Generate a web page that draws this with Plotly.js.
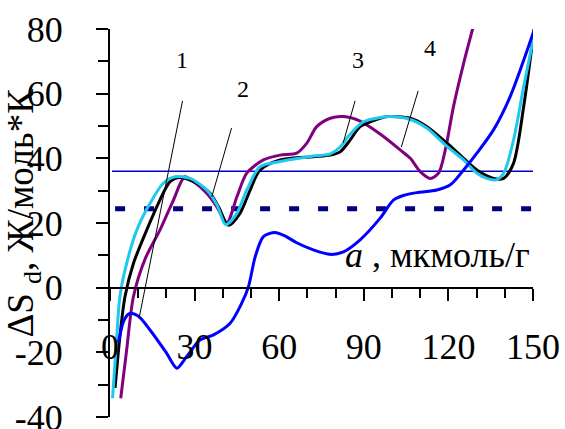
<!DOCTYPE html>
<html>
<head>
<meta charset="utf-8">
<script src="https://cdn.plot.ly/plotly-3.0.1.min.js"></script>
<style>html,body{margin:0;padding:0;background:#fff;}#chart{width:565px;height:429px;}</style>
</head>
<body>
<div id="chart"></div>
<script>
// Curve 1 (blue)
const x1 = [3, 5, 7, 10, 14.2, 20.1, 23.7, 27.2, 31.9, 36.7, 42.6, 46.7, 49.1, 51.5, 54.4, 58.5, 62, 66.2, 72.1, 78.1, 82.8, 88.7, 95.8, 100.5, 104, 108.8, 115.9, 120.7, 125.4, 130.1, 136, 141.9, 150.8];
const y1 = [-17, -10, -8, -8.8, -13.1, -20.3, -24.9, -21.3, -16.2, -14.6, -11, -4.8, 0.3, 9.6, 15.8, 17.1, 16, 13.9, 11.7, 10.3, 11.1, 14.8, 21.5, 27.1, 28.5, 29.4, 30.2, 31.8, 36.4, 41.6, 48.8, 59.1, 80.7];
// Curve 2 (black)
const x2 = [1.8, 3.5, 5.3, 8.3, 13, 17.7, 21.3, 24.8, 30.8, 35.5, 38.5, 42, 46.1, 49.7, 53.2, 60.3, 72.1, 78.1, 81.6, 85.2, 88.7, 95.8, 98.2, 106.5, 112.4, 119.5, 124.2, 130.1, 136, 139.6, 143.1, 146.7, 150.5];
const y2 = [-31, -15.2, -2.8, 7.5, 17.8, 27.1, 32.8, 34.1, 32.3, 29.2, 25, 19.3, 23, 30.2, 36.4, 39.5, 40.5, 41, 42, 45.7, 49.8, 52.4, 52.9, 52.4, 49.8, 44.7, 41, 36.4, 33.8, 33.8, 38.5, 56, 80.7];
// Curve 3 (light blue)
const x3 = [0.9, 2.4, 3.5, 5.9, 9.5, 14.2, 18.9, 23.1, 28.4, 34.3, 38, 41, 45, 48.5, 53.2, 60.3, 72.1, 78.1, 81.6, 85.2, 89.9, 95.8, 99.4, 106.5, 112.4, 119.5, 125.4, 130.1, 133.7, 136.7, 139.6, 143.1, 146.7, 151];
const y3 = [-34.2, -15.2, -2.8, 7.5, 17.8, 26.1, 32.3, 34.3, 33.8, 30.2, 25.5, 19.5, 23, 30.2, 37.4, 39, 40.7, 41.4, 43.5, 47.5, 51.3, 52.6, 52.9, 52, 49.3, 43.7, 39.5, 35.4, 33.8, 33.3, 35.4, 45.7, 62.2, 80.7];
// Curve 4 (purple)
const x4 = [3.8, 5.9, 8.3, 12.5, 17.7, 22.5, 26.5, 29.6, 34.3, 37.9, 41.4, 45, 48.5, 54.4, 60.3, 66.2, 69.8, 73.3, 78.1, 82.8, 88.7, 95.8, 102.9, 106.5, 110, 113.6, 116.5, 118.9, 121.8, 125.4, 128.8];
const y4 = [-34.2, -19.3, -2.8, 9, 17.8, 27.1, 34.3, 32.8, 29.2, 25, 20, 28.1, 35.4, 39.5, 41, 41.6, 44.7, 49.8, 52.4, 52.9, 51.5, 47.5, 42.6, 40, 35.9, 33.8, 35.4, 42.6, 56, 69.4, 80.7];
// Reference lines
const refX = [0.7, 151];
const refSolidY = 36;
const refDashX = [1.8, 150];
const refDashY = 24.4;
// Curve labels and leader lines
const labelText = ["1", "2", "3", "4"];
const labelX = [25.5, 47, 88, 113.5];
const labelY = [70.5, 61.5, 70.5, 74];
const leaderFromX = [26, 43.5, 87.3, 109.7];
const leaderFromY = [59, 50.6, 59, 62.1];
const leaderToX = [10.3, 36.1, 82.7, 103.3];
const leaderToY = [-9.5, 28.1, 44.8, 43.5];
// Axis ticks
const xTicks = [0, 30, 60, 90, 120, 150];
const yTicks = [-40, -20, 0, 20, 40, 60, 80];

const FONT = "Liberation Serif";

const traces = [
  {x: refX, y: refX.map(() => refSolidY), mode: "lines", line: {color: "#0000CC", width: 1.5}, hoverinfo: "skip"},
  {x: refDashX, y: refDashX.map(() => refDashY), mode: "lines", line: {color: "#000080", width: 5, dash: "10px,19px"}, hoverinfo: "skip"},
  {x: x4, y: y4, mode: "lines", line: {color: "#800080", width: 3, shape: "spline", smoothing: 0.8}},
  {x: x2, y: y2, mode: "lines", line: {color: "#000000", width: 3, shape: "spline", smoothing: 0.8}},
  {x: x3, y: y3, mode: "lines", line: {color: "#1EC8F0", width: 3, shape: "spline", smoothing: 0.8}},
  {x: x1, y: y1, mode: "lines", line: {color: "#0000FF", width: 3, shape: "spline", smoothing: 0.8}}
];

const annotations = [];
for (let i = 0; i < labelText.length; i++) {
  annotations.push({x: labelX[i], y: labelY[i], xref: "x", yref: "y", text: labelText[i], showarrow: false,
    font: {family: FONT, size: 24, color: "#000"}, xanchor: "center", yanchor: "middle"});
  annotations.push({x: leaderToX[i], y: leaderToY[i], ax: leaderFromX[i], ay: leaderFromY[i], xref: "x", yref: "y",
    axref: "x", ayref: "y", text: " ", showarrow: true, arrowhead: 0, arrowwidth: 1, arrowcolor: "#000", standoff: 0, startstandoff: 0,
    font: {family: FONT, size: 4}});
}
annotations.push({x: 149.5, y: 10, xref: "x", yref: "y", text: "<i>a</i> , мкмоль/г", showarrow: false,
  font: {family: FONT, size: 36, color: "#000"}, xanchor: "right", yanchor: "middle"});
annotations.push({x: -0.205, y: 0.525, xref: "paper", yref: "paper", text: "ΔS <sub>d</sub>, Ж/моль*К", textangle: -90, showarrow: false,
  font: {family: FONT, size: 37, color: "#000"}, xanchor: "center", yanchor: "middle"});

const layout = {
  width: 565, height: 429,
  margin: {l: 110, r: 32, t: 29, b: 12},
  paper_bgcolor: "#fff", plot_bgcolor: "#fff",
  showlegend: false,
  font: {family: FONT, size: 36, color: "#000"},
  xaxis: {
    range: [0, 150], anchor: "free", position: 1/3,
    showline: true, linewidth: 2, linecolor: "#000", mirror: false,
    ticks: "outside", ticklen: 12, tickwidth: 2, tickcolor: "#000",
    tickmode: "array", tickvals: xTicks, ticktext: xTicks.map(String),
    tickfont: {family: FONT, size: 36, color: "#000"},
    ticklabelstandoff: 15, ticklabeloverflow: "allow",
    minor: {ticks: "outside", dtick: 10, tick0: 0, ticklen: 9, tickwidth: 2, tickcolor: "#000", showgrid: false},
    showgrid: false, zeroline: false
  },
  yaxis: {
    range: [-40, 80], domain: [0, 1],
    showline: true, linewidth: 2, linecolor: "#000",
    ticks: "outside", ticklen: 12, tickwidth: 2, tickcolor: "#000",
    tickmode: "array", tickvals: yTicks, ticktext: yTicks.map(String),
    tickfont: {family: FONT, size: 36, color: "#000"},
    ticklabelstandoff: 26, ticklabeloverflow: "allow",
    minor: {ticks: "outside", dtick: 10, tick0: 0, ticklen: 10, tickwidth: 2, tickcolor: "#000", showgrid: false},
    showgrid: false, zeroline: false
  },
  annotations: annotations
};

Plotly.newPlot("chart", traces, layout, {staticPlot: true, displayModeBar: false});
</script>
</body>
</html>
